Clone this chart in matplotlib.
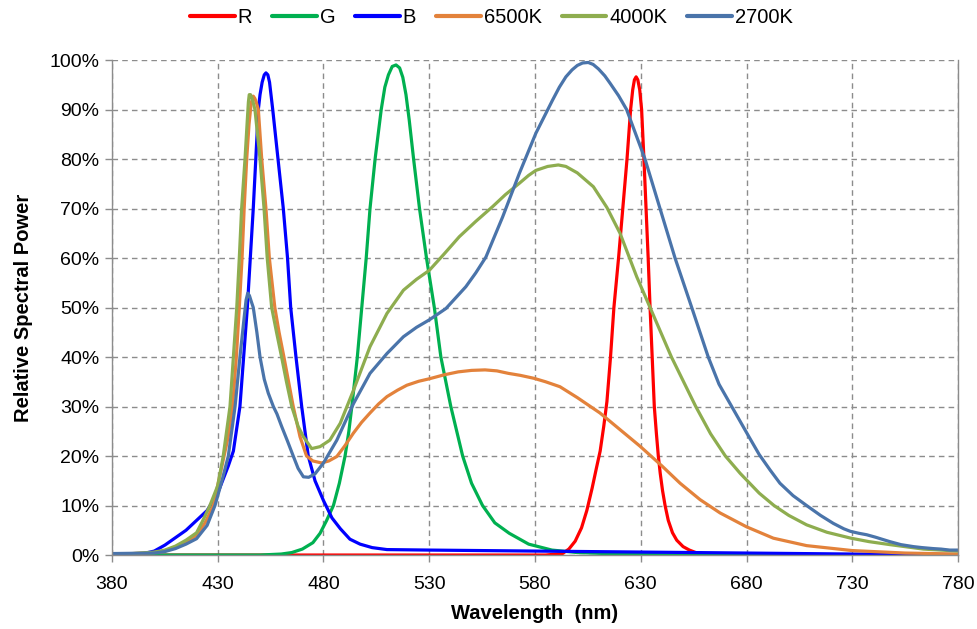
import matplotlib
matplotlib.use("Agg")
import matplotlib.pyplot as plt
from matplotlib.ticker import FuncFormatter, MultipleLocator

plt.rcParams['font.family'] = ['Liberation Sans', 'DejaVu Sans']

# ---------------- data (wavelength nm, relative power %) ----------------
r_wl = [380, 450, 560, 585, 593, 596, 599, 602, 604.5, 607, 609, 610.8, 612.5, 614, 615.7,
        617.3, 619.5, 621.5, 623.5, 625.2, 626.2, 627, 627.8, 628.6, 629.5, 630.4, 631.5,
        632.5, 633.5, 634.4, 635.4, 636.4, 637.4, 638.3, 639.2, 640.3, 641.5, 643, 645, 647,
        650, 653, 656, 662, 670, 780]
r_val = [0, 0, 0, 0, 0.3, 1.2, 2.8, 5.5, 9, 13.5, 17.5, 21, 26, 31, 40,
         50, 60, 70, 80, 90, 94, 96, 96.6, 96, 94, 90, 80,
         70, 60, 50, 40, 30, 24.5, 20, 16.5, 13, 10, 7, 4.5, 3,
         1.7, 1, 0.5, 0.1, 0, 0]

g_wl = [380, 450, 460, 465, 470, 475, 478.4, 481.5, 484.7, 487.5, 490.2, 492, 493.4, 496, 498.1,
        500.2, 502, 504.4, 507.3, 509, 510.7, 512.5, 514.3, 516, 517.5, 519, 520.5, 522.6,
        525.4, 528.7, 532.4, 535.5, 540.2, 545.8, 550, 555.2, 561, 567.8, 577, 588, 600, 620,
        650, 780]
g_val = [0, 0, 0.2, 0.5, 1.2, 2.5, 4.4, 7, 10, 14.5, 20, 25, 30, 40, 50,
         60, 70, 80, 90, 94.5, 97, 98.7, 99, 98.4, 96.5, 93, 88, 80,
         70, 60, 50, 40, 30, 20, 14.5, 10, 6.5, 4.4, 2.2, 1, 0.5, 0.2,
         0, 0]

b_wl = [380, 390, 395, 400, 405, 410, 415, 420, 425, 430, 435, 437.4, 440.5, 444, 446.8, 449.2,
        450, 451, 452, 452.8, 453.7, 454.5, 456, 458.5, 461, 463, 464.5, 467, 469.7, 472.8,
        476, 480, 484, 488, 492.5, 497.3, 503, 510, 530, 580, 630, 680, 730, 780]
b_val = [0.2, 0.2, 0.3, 0.8, 2, 3.5, 5, 7, 9, 12.5, 18, 21, 30, 50, 70, 90,
         93, 95.5, 97, 97.4, 97, 95.5, 90, 80, 70, 60, 50, 40, 30, 20,
         15, 11, 7.5, 5.3, 3.2, 2.2, 1.5, 1.1, 1.0, 0.8, 0.6, 0.4, 0.2, 0.1]

k6500_wl = [380, 390, 400, 405, 410, 415, 420, 424, 427.9, 432, 435, 437, 438.8, 440.2, 441.5,
            442.5, 443.7, 444.8, 445.8, 446.8, 447.6, 448.4, 449.2, 450.8, 452.8, 454.4, 455.7,
            457, 459, 461.3, 463.5, 465.7, 468.9, 472, 475, 479.1, 482.5, 486.3, 490, 494.1,
            498, 502, 506, 510, 515, 519.4, 525, 530, 537, 543.7, 550, 556.4, 562, 567.4,
            573, 579.5, 585, 591.8, 600, 610.7, 620, 629.6, 640, 648.6, 658, 667.5, 680,
            692.7, 708.4, 730, 755, 780]
k6500_val = [0.2, 0.3, 0.5, 0.8, 1.5, 2.5, 4, 6.5, 10, 18, 24, 30, 40, 50, 60,
             70, 80, 87, 91.3, 92.7, 92.2, 91.2, 90, 80, 70, 60, 55,
             50, 45, 40, 35, 30, 23.9, 20, 19, 18.6, 19, 19.9, 22, 24.6,
             26.8, 28.7, 30.5, 32, 33.3, 34.3, 35.1, 35.6, 36.4, 37, 37.3, 37.4, 37.2, 36.7,
             36.3, 35.7, 35, 34, 31.8, 28.7, 25.4, 22, 18, 14.5, 11.2, 8.5, 5.7,
             3.4, 1.9, 0.9, 0.4, 0.2]

k4000_wl = [380, 390, 400, 405, 410, 415, 420, 423, 426.3, 430, 432.6, 435.8, 437.4, 439, 440.2,
            441.3, 442.9, 444, 444.5, 444.9, 445.5, 446.3, 447.6, 450, 451.9, 453.4, 455.5,
            457.8, 460.2, 462.5, 465, 468, 470.5, 474.4, 478.4, 483, 487.9, 494.2, 502, 510,
            517.8, 524, 530, 537, 544.2, 552, 560, 566, 572.6, 577, 580.4, 586, 591, 594.6,
            600, 607.6, 614, 620.2, 628.1, 634.4, 644.5, 656, 663, 670, 677, 686, 693, 700,
            708.4, 718, 729.4, 738, 747.8, 763.6, 780]
k4000_val = [0.2, 0.3, 0.6, 1, 1.8, 3, 4.5, 7, 10, 14, 20, 30, 40, 50, 60,
             70, 80, 88, 91.5, 93, 93, 92.2, 90, 80, 70, 60, 50,
             45, 40, 35, 30, 26, 23.9, 21.5, 21.9, 23.2, 26.6, 33.3, 42.1, 48.8,
             53.5, 55.7, 57.5, 60.8, 64.3, 67.4, 70.4, 72.8, 75.1, 76.7, 77.7, 78.5, 78.8, 78.5,
             77.2, 74.4, 70.2, 65, 56.2, 50, 40, 30, 24.5, 20, 16.5, 12.5, 10, 8,
             6.1, 4.6, 3.4, 2.7, 2.1, 1.2, 0.8]

k2700_wl = [380, 400, 405, 410, 415, 420, 425, 428.7, 432, 435, 438.2, 440.5, 442.5, 443.4, 444.2,
            445, 445.8, 446.8, 448.5, 450, 452, 453.9, 456.3, 458, 460.2, 463, 465.7, 468,
            470.5, 473, 476, 480, 486.3, 494.2, 502, 510, 517.8, 524, 530, 537.9, 547.3, 552,
            556.8, 560.5, 564.7, 572.6, 580.4, 588.3, 591.5, 594.6, 597.5, 600, 602.5, 605.2,
            607.5, 610, 613, 615.5, 619.5, 623.3, 632, 639.1, 646.2, 654.1, 661.9, 667, 673,
            677, 681, 686, 691.1, 695.8, 702, 708.4, 715, 721, 726, 729, 733, 736.8, 741,
            744, 747.8, 753, 758.9, 763, 768.3, 772, 776, 780]
k2700_val = [0.3, 0.4, 0.7, 1.3, 2.2, 3.3, 6, 10, 15, 20, 30, 40, 48, 51.5, 52.9,
             52.4, 51.3, 50, 45, 40, 35.5, 32.7, 30, 28.5, 26, 23, 20, 17.5,
             15.8, 15.7, 16.4, 18.6, 23.2, 30.6, 36.7, 40.7, 44.1, 46, 47.5, 49.8, 54.2, 57,
             60.2, 64, 68.3, 77.1, 85.2, 91.9, 94.5, 96.6, 98, 98.9, 99.4, 99.5,
             99.1, 98.2, 96.8, 95.3, 92.8, 90, 80, 70, 60, 50, 40, 34.5, 30,
             27, 24, 20.3, 17.2, 14.5, 12, 10, 8, 6.4, 5.3, 4.8, 4.4, 4.1, 3.6,
             3.2, 2.7, 2.1, 1.7, 1.5, 1.3, 1.2, 1.0, 1.0]

series = [
    ("R", r_wl, r_val, "#FF0000"),
    ("G", g_wl, g_val, "#00B050"),
    ("B", b_wl, b_val, "#0000FF"),
    ("6500K", k6500_wl, k6500_val, "#E3823B"),
    ("4000K", k4000_wl, k4000_val, "#8EAD4F"),
    ("2700K", k2700_wl, k2700_val, "#4A74AA"),
]

x_ticks = [380, 430, 480, 530, 580, 630, 680, 730, 780]

# ---------------- plot ----------------
fig = plt.figure(figsize=(9.77, 6.29), dpi=100)
ax = fig.add_axes([0.1146, 0.1176, 0.866, 0.787])

for name, wl, val, col in series:
    ax.plot(wl, [v / 100 for v in val], color=col, lw=2.3, label=name,
            solid_joinstyle='round', solid_capstyle='round')

ax.set_xlim(380, 780)
ax.set_ylim(0, 1.0)
ax.set_xticks(x_ticks)
ax.yaxis.set_major_locator(MultipleLocator(0.1))
ax.yaxis.set_major_formatter(FuncFormatter(lambda v, p: f"{v*100:.0f}%"))

ax.grid(True, color="#8C8C8C", linestyle=(0, (4, 3)), linewidth=1.0)
ax.set_axisbelow(True)

for s in ["left", "bottom", "right", "top"]:
    ax.spines[s].set_color("#8C8C8C")
    ax.spines[s].set_linewidth(1.0)
ax.spines["top"].set_visible(False)

ax.tick_params(axis="both", which="major", direction="out", length=5, width=1,
               color="#8C8C8C", labelsize=14, labelcolor="#000000")
ax.tick_params(axis="x", pad=10)
ax.tick_params(axis="y", pad=4)

ax.set_xlabel("Wavelength  (nm)", fontsize=14.5, fontweight="bold", labelpad=8)
ax.set_ylabel("Relative Spectral Power", fontsize=14.5, fontweight="bold", labelpad=12)

leg = fig.legend(loc="center", bbox_to_anchor=(0.503, 0.972), ncol=6, frameon=False,
                 fontsize=14.5, handlelength=2.2, handletextpad=0.15, columnspacing=1.0)
for line in leg.get_lines():
    line.set_linewidth(3)

fig.savefig("out.png", dpi=100)
